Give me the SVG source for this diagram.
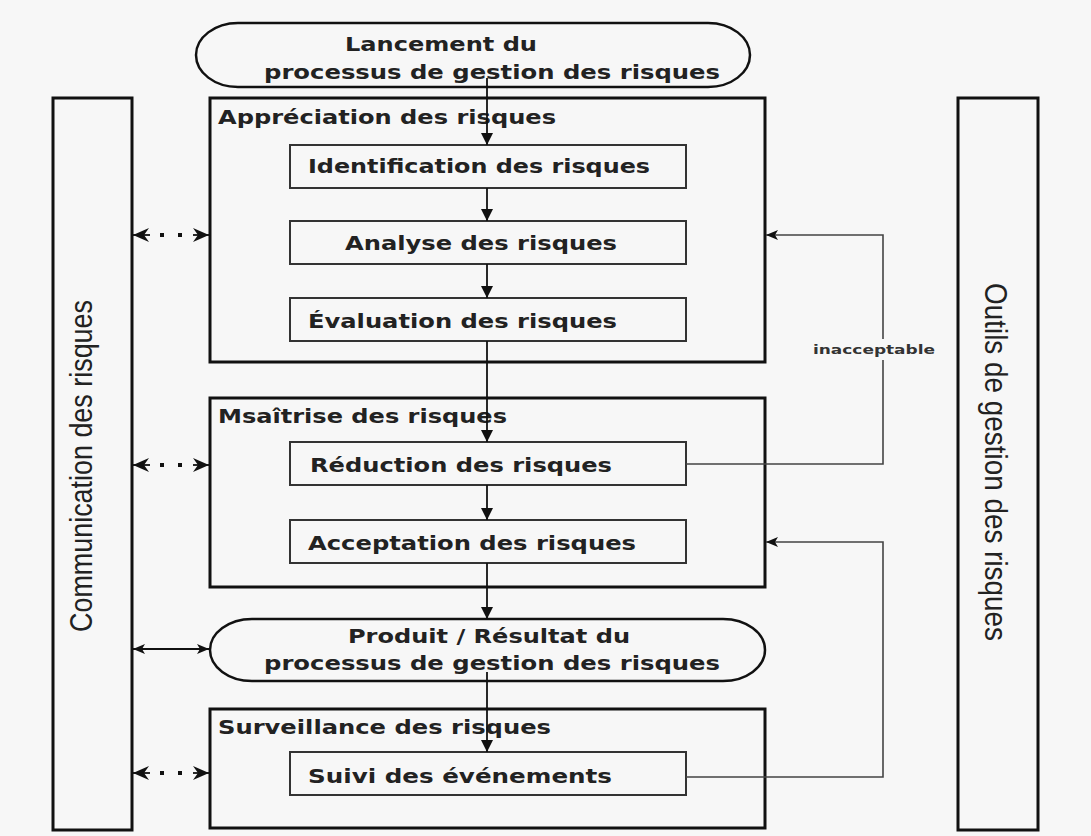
<svg xmlns="http://www.w3.org/2000/svg" width="1091" height="836" viewBox="0 0 1091 836">
<style>
.bg{fill:#f7f7f7}
.outer{fill:none;stroke:#111;stroke-width:3}
.inner{fill:none;stroke:#333;stroke-width:2}
.pill{fill:none;stroke:#111;stroke-width:2.5}
.t{font-family:"DejaVu Sans",Verdana,sans-serif;font-weight:bold;font-size:20px;fill:#222}
.side{font-family:"Liberation Sans",Arial,sans-serif;font-size:32px;fill:#222}
.small{font-family:"DejaVu Sans",Verdana,sans-serif;font-weight:bold;font-size:12px;fill:#333}
.flow{fill:none;stroke:#111;stroke-width:1.8}
.fb{fill:none;stroke:#444;stroke-width:1.6}
.dot{fill:none;stroke:#111;stroke-width:4;stroke-dasharray:4 14}
</style>
<defs>
<marker id="ah" viewBox="0 0 12 12" refX="12" refY="6" markerWidth="12" markerHeight="12" markerUnits="userSpaceOnUse" orient="auto-start-reverse">
<path d="M0,1 L12,6 L0,11 L3,6 z" fill="#111"/>
</marker>
<marker id="ab" viewBox="0 0 16 14" refX="16" refY="7" markerWidth="16" markerHeight="14" markerUnits="userSpaceOnUse" orient="auto-start-reverse">
<path d="M0,0 L16,7 L0,14 L5,7 z" fill="#111"/>
</marker>
<marker id="ad" viewBox="0 0 12 12" refX="12" refY="6" markerWidth="12" markerHeight="12" markerUnits="userSpaceOnUse" orient="auto">
<path d="M0,0 L12,6 L0,12 z" fill="#111"/>
</marker>
</defs>
<rect class="bg" x="0" y="0" width="1091" height="836"/>

<g id="communication">
<rect class="outer" x="53" y="98" width="79" height="732"/>
<text class="side" transform="translate(92,466) rotate(-90)" text-anchor="middle" textLength="332" lengthAdjust="spacingAndGlyphs">Communication des risques</text>
</g>
<g id="outils">
<rect class="outer" x="958" y="98" width="80" height="732"/>
<text class="side" transform="translate(985,462) rotate(90)" text-anchor="middle" textLength="358" lengthAdjust="spacingAndGlyphs">Outils de gestion des risques</text>
</g>

<g id="lancement">
<rect class="pill" x="196" y="23" width="554" height="64" rx="42" ry="32"/>
<text class="t" x="345" y="51" textLength="192" lengthAdjust="spacingAndGlyphs">Lancement du</text>
<text class="t" x="264" y="79" textLength="456" lengthAdjust="spacingAndGlyphs">processus de gestion des risques</text>
</g>

<g id="appreciation">
<rect class="outer" x="210" y="98" width="555" height="264"/>
<text class="t" x="218" y="124" textLength="338" lengthAdjust="spacingAndGlyphs">Appréciation des risques</text>
</g>
<g id="identification">
<rect class="inner" x="290" y="145" width="396" height="43"/>
<text class="t" x="308" y="173" textLength="342" lengthAdjust="spacingAndGlyphs">Identification des risques</text>
</g>
<g id="analyse">
<rect class="inner" x="290" y="221" width="396" height="43"/>
<text class="t" x="345" y="250" textLength="272" lengthAdjust="spacingAndGlyphs">Analyse des risques</text>
</g>
<g id="evaluation">
<rect class="inner" x="290" y="298" width="396" height="43"/>
<text class="t" x="308" y="328" textLength="309" lengthAdjust="spacingAndGlyphs">Évaluation des risques</text>
</g>

<g id="maitrise">
<rect class="outer" x="210" y="398" width="555" height="189"/>
<text class="t" x="218" y="423" textLength="289" lengthAdjust="spacingAndGlyphs">Msaîtrise des risques</text>
</g>
<g id="reduction">
<rect class="inner" x="290" y="442" width="396" height="43"/>
<text class="t" x="310" y="472" textLength="302" lengthAdjust="spacingAndGlyphs">Réduction des risques</text>
</g>
<g id="acceptation">
<rect class="inner" x="290" y="520" width="396" height="43"/>
<text class="t" x="308" y="550" textLength="328" lengthAdjust="spacingAndGlyphs">Acceptation des risques</text>
</g>

<g id="produit">
<rect class="pill" x="210" y="619" width="555" height="62" rx="42" ry="31"/>
<text class="t" x="348" y="643" textLength="282" lengthAdjust="spacingAndGlyphs">Produit / Résultat du</text>
<text class="t" x="264" y="670" textLength="456" lengthAdjust="spacingAndGlyphs">processus de gestion des risques</text>
</g>

<g id="surveillance">
<rect class="outer" x="210" y="709" width="555" height="119"/>
<text class="t" x="218" y="734" textLength="333" lengthAdjust="spacingAndGlyphs">Surveillance des risques</text>
</g>
<g id="suivi">
<rect class="inner" x="290" y="752" width="396" height="43"/>
<text class="t" x="308" y="783" textLength="304" lengthAdjust="spacingAndGlyphs">Suivi des événements</text>
</g>

<g id="connectors">
<line class="flow" x1="487" y1="78" x2="487" y2="145" marker-end="url(#ad)"/>
<line class="flow" x1="487" y1="188" x2="487" y2="221" marker-end="url(#ad)"/>
<line class="flow" x1="487" y1="264" x2="487" y2="298" marker-end="url(#ad)"/>
<line class="flow" x1="487" y1="341" x2="487" y2="442" marker-end="url(#ad)"/>
<line class="flow" x1="487" y1="485" x2="487" y2="520" marker-end="url(#ad)"/>
<line class="flow" x1="487" y1="563" x2="487" y2="619" marker-end="url(#ad)"/>
<line class="flow" x1="487" y1="672" x2="487" y2="752" marker-end="url(#ad)"/>

<path class="fb" d="M686,464 H883 V360 M883,339 V235 H766" marker-end="url(#ah)"/>
<text class="small" x="874" y="354" text-anchor="middle" textLength="122" lengthAdjust="spacingAndGlyphs">inacceptable</text>
<path class="fb" d="M686,777 H883 V542 H766" marker-end="url(#ah)"/>

<line class="dot" x1="160" y1="235" x2="185" y2="235"/>
<line class="flow" x1="150" y1="235" x2="133" y2="235" marker-end="url(#ab)"/>
<line class="flow" x1="193" y1="235" x2="209" y2="235" marker-end="url(#ab)"/>
<line class="dot" x1="160" y1="465" x2="185" y2="465"/>
<line class="flow" x1="150" y1="465" x2="133" y2="465" marker-end="url(#ab)"/>
<line class="flow" x1="193" y1="465" x2="209" y2="465" marker-end="url(#ab)"/>
<line class="dot" x1="160" y1="773" x2="185" y2="773"/>
<line class="flow" x1="150" y1="773" x2="133" y2="773" marker-end="url(#ab)"/>
<line class="flow" x1="193" y1="773" x2="209" y2="773" marker-end="url(#ab)"/>
<line class="flow" x1="133" y1="649" x2="209" y2="649" marker-start="url(#ah)" marker-end="url(#ah)"/>
</g>
</svg>
